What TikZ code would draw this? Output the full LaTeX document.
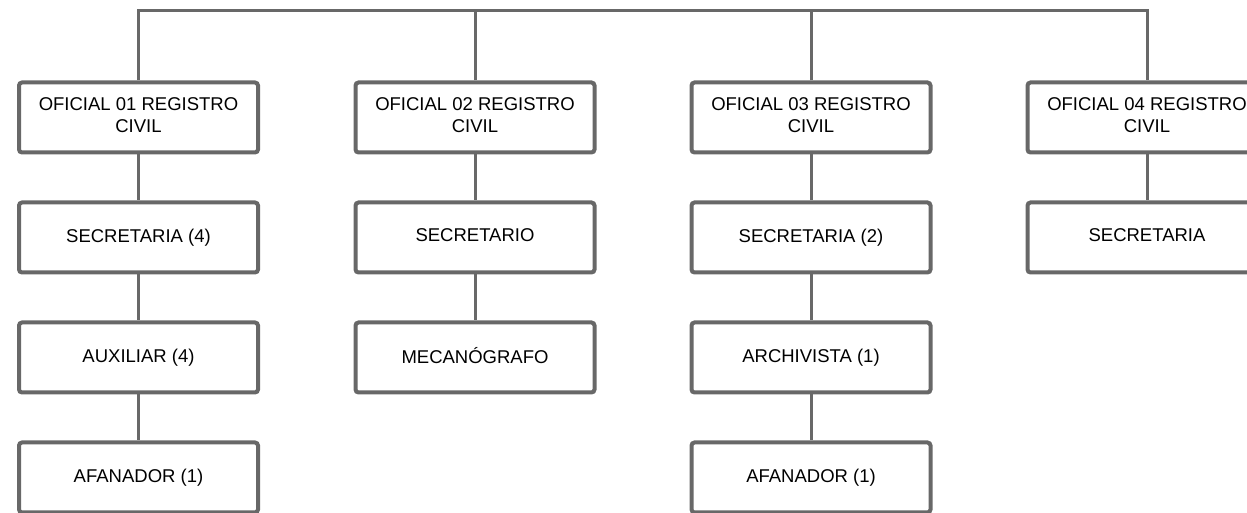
\documentclass[tikz,border=0pt]{standalone}
\usepackage{fontspec}
\setmainfont{Liberation Sans}
\usepackage{tikz}
\usetikzlibrary{positioning}
\definecolor{linegray}{RGB}{104,104,104}

\begin{document}
\begin{tikzpicture}[x=1pt,y=1pt,
	cargo/.style={draw=linegray,line width=4pt,rounded corners=3pt,fill=white,
		minimum width=239pt,minimum height=70pt,align=center,text depth=4pt,
		font=\fontsize{18.5}{22}\selectfont},
	enlace/.style={draw=linegray,line width=3pt},
	node distance=46pt]
	\useasboundingbox (0,0) rectangle (1247,513);
	\clip (0,0) rectangle (1247,513);

	% oficiales
	\node[cargo] at (138.5,395.5) (of1) {OFICIAL 01 REGISTRO\\CIVIL};
	\node[cargo] at (475,395.5) (of2) {OFICIAL 02 REGISTRO\\CIVIL};
	\node[cargo] at (811,395.5) (of3) {OFICIAL 03 REGISTRO\\CIVIL};
	\node[cargo] at (1147,395.5) (of4) {OFICIAL 04 REGISTRO\\CIVIL};

	% columna 1
	\node[cargo,below=of of1] (sec1) {SECRETARIA (4)};
	\node[cargo,below=of sec1] (aux1) {AUXILIAR (4)};
	\node[cargo,below=of aux1] (afa1) {AFANADOR (1)};
	\draw[enlace] (of1.south) -- (sec1.north);
	\draw[enlace] (sec1.south) -- (aux1.north);
	\draw[enlace] (aux1.south) -- (afa1.north);

	% columna 2
	\node[cargo,below=of of2] (sec2) {SECRETARIO};
	\node[cargo,below=of sec2] (mec2) {MECANÓGRAFO};
	\draw[enlace] (of2.south) -- (sec2.north);
	\draw[enlace] (sec2.south) -- (mec2.north);

	% columna 3
	\node[cargo,below=of of3] (sec3) {SECRETARIA (2)};
	\node[cargo,below=of sec3] (arc3) {ARCHIVISTA (1)};
	\node[cargo,below=of arc3] (afa3) {AFANADOR (1)};
	\draw[enlace] (of3.south) -- (sec3.north);
	\draw[enlace] (sec3.south) -- (arc3.north);
	\draw[enlace] (arc3.south) -- (afa3.north);

	% columna 4
	\node[cargo,below=of of4] (sec4) {SECRETARIA};
	\draw[enlace] (of4.south) -- (sec4.north);

	% linea superior
	\coordinate (bus) at (0,502.5);
	\draw[enlace] (of1.north) |- (bus -| of4.north) -- (of4.north);
	\draw[enlace] (of2.north) -- (of2.north |- bus);
	\draw[enlace] (of3.north) -- (of3.north |- bus);
\end{tikzpicture}
\end{document}
